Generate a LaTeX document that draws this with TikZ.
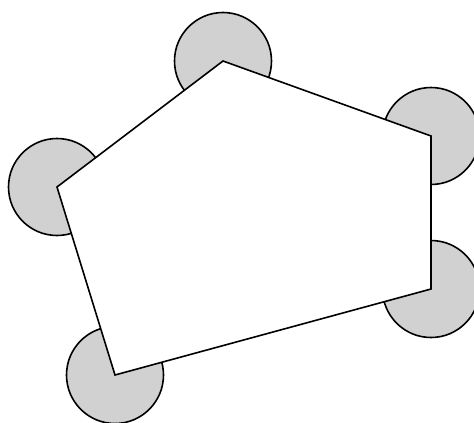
\documentclass[tikz,border=0pt]{standalone}
\usepackage{tikz}
\usetikzlibrary{positioning}

\begin{document}
\begin{tikzpicture}[x=1pt,y=-1pt,line width=1.6pt,line join=miter]
\tikzstyle{disc}=[draw,fill=black!18,circle,minimum size=97pt,inner sep=0pt,line width=1.6pt]
\useasboundingbox (0,0) rectangle (474,423);
\coordinate (top) at (223,61);
\coordinate (rtop) at (431,136);
\coordinate (rbot) at (431,289);
\coordinate (botl) at (115,375);
\coordinate (left) at (57,187);
\foreach \c in {top,rtop,rbot,botl,left}
  \node[disc] (d\c) at (\c) {};
\draw[fill=white] (top) -- (rtop) -- (rbot) -- (botl) -- (left) -- cycle;
\end{tikzpicture}
\end{document}
